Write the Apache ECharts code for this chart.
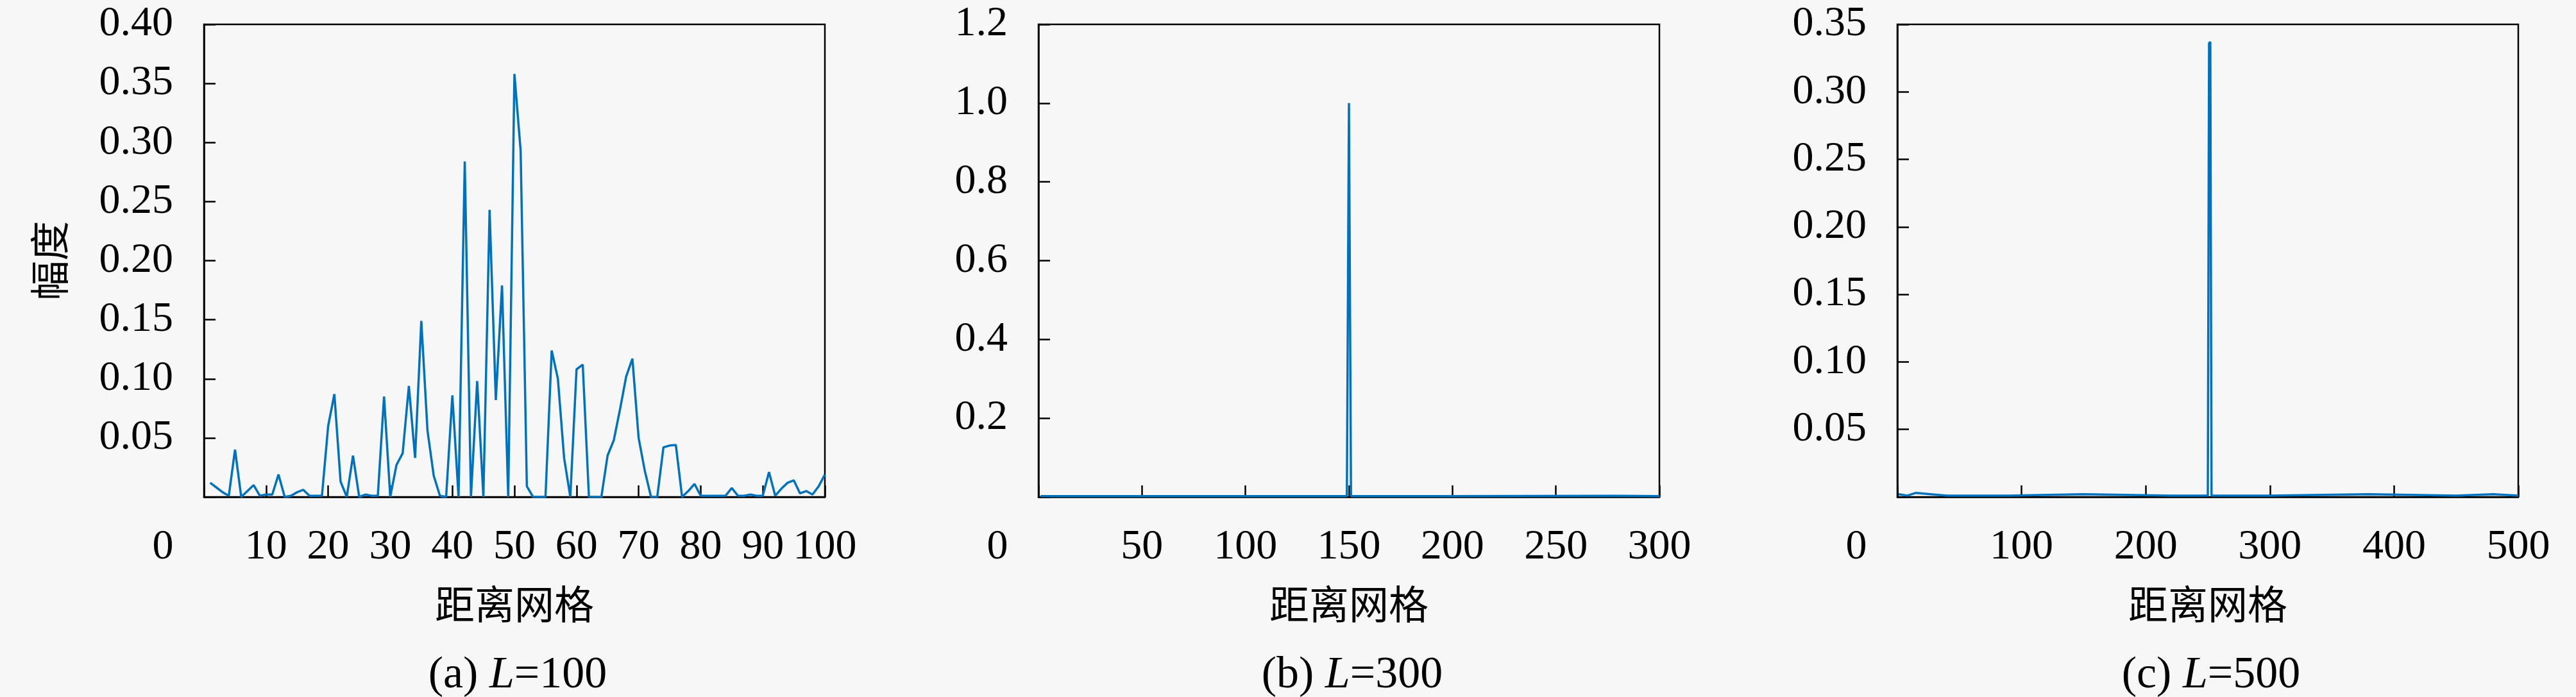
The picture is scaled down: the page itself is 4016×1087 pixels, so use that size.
<!DOCTYPE html>
<html>
<head>
<meta charset="utf-8">
<script src="https://cdn.jsdelivr.net/npm/echarts@6/dist/echarts.min.js"></script>
<style>
  html, body { margin: 0; padding: 0; background: #f7f7f7; }
  #main { width: 4016px; height: 1087px; }
</style>
</head>
<body>
<div id="main"></div>
<script>
var myChart = echarts.init(document.getElementById('main'));

// (a) L=100, amplitude per range cell 1..100
var ampA = [
  0.012, 0.008, 0.004, 0.001, 0.040, 0.000, 0.005, 0.010, 0.001, 0.002,
  0.002, 0.019, 0.000, 0.001, 0.004, 0.006, 0.001, 0.001, 0.001, 0.060,
  0.087, 0.013, 0.000, 0.035, 0.000, 0.002, 0.001, 0.001, 0.085, 0.000,
  0.027, 0.037, 0.094, 0.033, 0.149, 0.056, 0.018, 0.001, 0.000, 0.086,
  0.000, 0.284, 0.000, 0.098, 0.000, 0.243, 0.082, 0.179, 0.000, 0.358,
  0.293, 0.009, 0.000, 0.000, 0.000, 0.124, 0.100, 0.033, 0.000, 0.108,
  0.112, 0.000, 0.000, 0.000, 0.035, 0.048, 0.074, 0.102, 0.117, 0.050,
  0.022, 0.000, 0.000, 0.042, 0.0435, 0.044, 0.000, 0.005, 0.011, 0.001,
  0.001, 0.001, 0.001, 0.001, 0.0075, 0.001, 0.001, 0.002, 0.001, 0.001,
  0.021, 0.001, 0.007, 0.012, 0.014, 0.003, 0.005, 0.002, 0.009, 0.019
];

// (b) L=300, single peak at cell 150, flat baseline elsewhere
var cellsB = [1, 60, 120, 149, 150, 151, 200, 280, 300];
var ampB   = [0.002, 0.002, 0.002, 0.002, 1.0, 0.002, 0.002, 0.003, 0.002];

// (c) L=500, peak at cells 251-252
var cellsC = [1, 8, 15, 40, 90, 150, 220, 250, 251, 252, 253, 300, 380, 450, 480, 500];
var ampC   = [0.002, 0.001, 0.003, 0.001, 0.001, 0.002, 0.001, 0.001, 0.336, 0.337, 0.001, 0.001, 0.002, 0.001, 0.002, 0.001];

var captions = ['(a) {i|L}=100', '(b) {i|L}=300', '(c) {i|L}=500'];
var xMax = [100, 300, 500];
var xStep = [10, 50, 100];
var yMax = [0.4, 1.2, 0.35];
var yStep = [0.05, 0.2, 0.05];
var yDigits = [2, 1, 2];

var seriesA = ampA.map(function (v, i) { return [i + 1, v]; });
var seriesB = cellsB.map(function (x, i) { return [x, ampB[i]]; });
var seriesC = cellsC.map(function (x, i) { return [x, ampC[i]]; });

var serif = 'Liberation Serif';
var cjk = 'Noto Sans CJK SC';
var lefts = [318, 1619, 2958];
var plotW = 968;

var grids = [], xAxes = [], yAxes = [], titles = [];
for (var k = 0; k < 3; k++) {
  grids.push({
    left: lefts[k], top: 38, width: plotW, height: 737,
    show: true, borderColor: '#000', borderWidth: 2.5, backgroundColor: 'transparent'
  });
  xAxes.push({
    gridIndex: k, type: 'value', min: 0, max: xMax[k], interval: xStep[k],
    name: '距离网格', nameLocation: 'middle', nameGap: 136,
    nameTextStyle: { fontFamily: cjk, fontSize: 62, color: '#000' },
    axisLine: { lineStyle: { color: '#000', width: 2.5 } },
    axisTick: { inside: true, length: 18, lineStyle: { color: '#000', width: 2.5 } },
    axisLabel: {
      margin: 46, color: '#000', fontFamily: serif, fontSize: 66,
      formatter: function (v) { return v === 0 ? '{o|0}' : String(v); },
      rich: { o: { fontFamily: serif, fontSize: 66, color: '#000', padding: [0, 128, 0, 0] } }
    },
    splitLine: { show: false }
  });
  (function (d) {
    yAxes.push({
      gridIndex: k, type: 'value', min: 0, max: yMax[k], interval: yStep[k],
      axisLine: { show: true, lineStyle: { color: '#000', width: 2.5 } },
      axisTick: { show: true, inside: true, length: 18, lineStyle: { color: '#000', width: 2.5 } },
      axisLabel: {
        margin: 48, color: '#000', fontFamily: serif, fontSize: 66,
        formatter: function (v) { return v === 0 ? '' : v.toFixed(d); }
      },
      splitLine: { show: false }
    });
  })(yDigits[k]);
  titles.push({
    text: captions[k], left: lefts[k] + plotW / 2, top: 1014, textAlign: 'center',
    textStyle: {
      fontFamily: serif, fontSize: 70, fontWeight: 'normal', color: '#000',
      rich: { i: { fontFamily: serif, fontSize: 70, fontStyle: 'italic', color: '#000' } }
    }
  });
}
yAxes[0].name = '幅度';
yAxes[0].nameLocation = 'middle';
yAxes[0].nameGap = 210;
yAxes[0].nameRotate = 90;
yAxes[0].nameTextStyle = { fontFamily: cjk, fontSize: 62, color: '#000' };

var lineStyle = { color: '#0072BD', width: 3.5 };
var option = {
  backgroundColor: '#f7f7f7',
  animation: false,
  title: titles,
  grid: grids,
  xAxis: xAxes,
  yAxis: yAxes,
  series: [
    { type: 'line', xAxisIndex: 0, yAxisIndex: 0, data: seriesA, showSymbol: false, lineStyle: lineStyle },
    { type: 'line', xAxisIndex: 1, yAxisIndex: 1, data: seriesB, showSymbol: false, lineStyle: lineStyle },
    { type: 'line', xAxisIndex: 2, yAxisIndex: 2, data: seriesC, showSymbol: false, lineStyle: lineStyle }
  ]
};
myChart.setOption(option);
</script>
</body>
</html>
